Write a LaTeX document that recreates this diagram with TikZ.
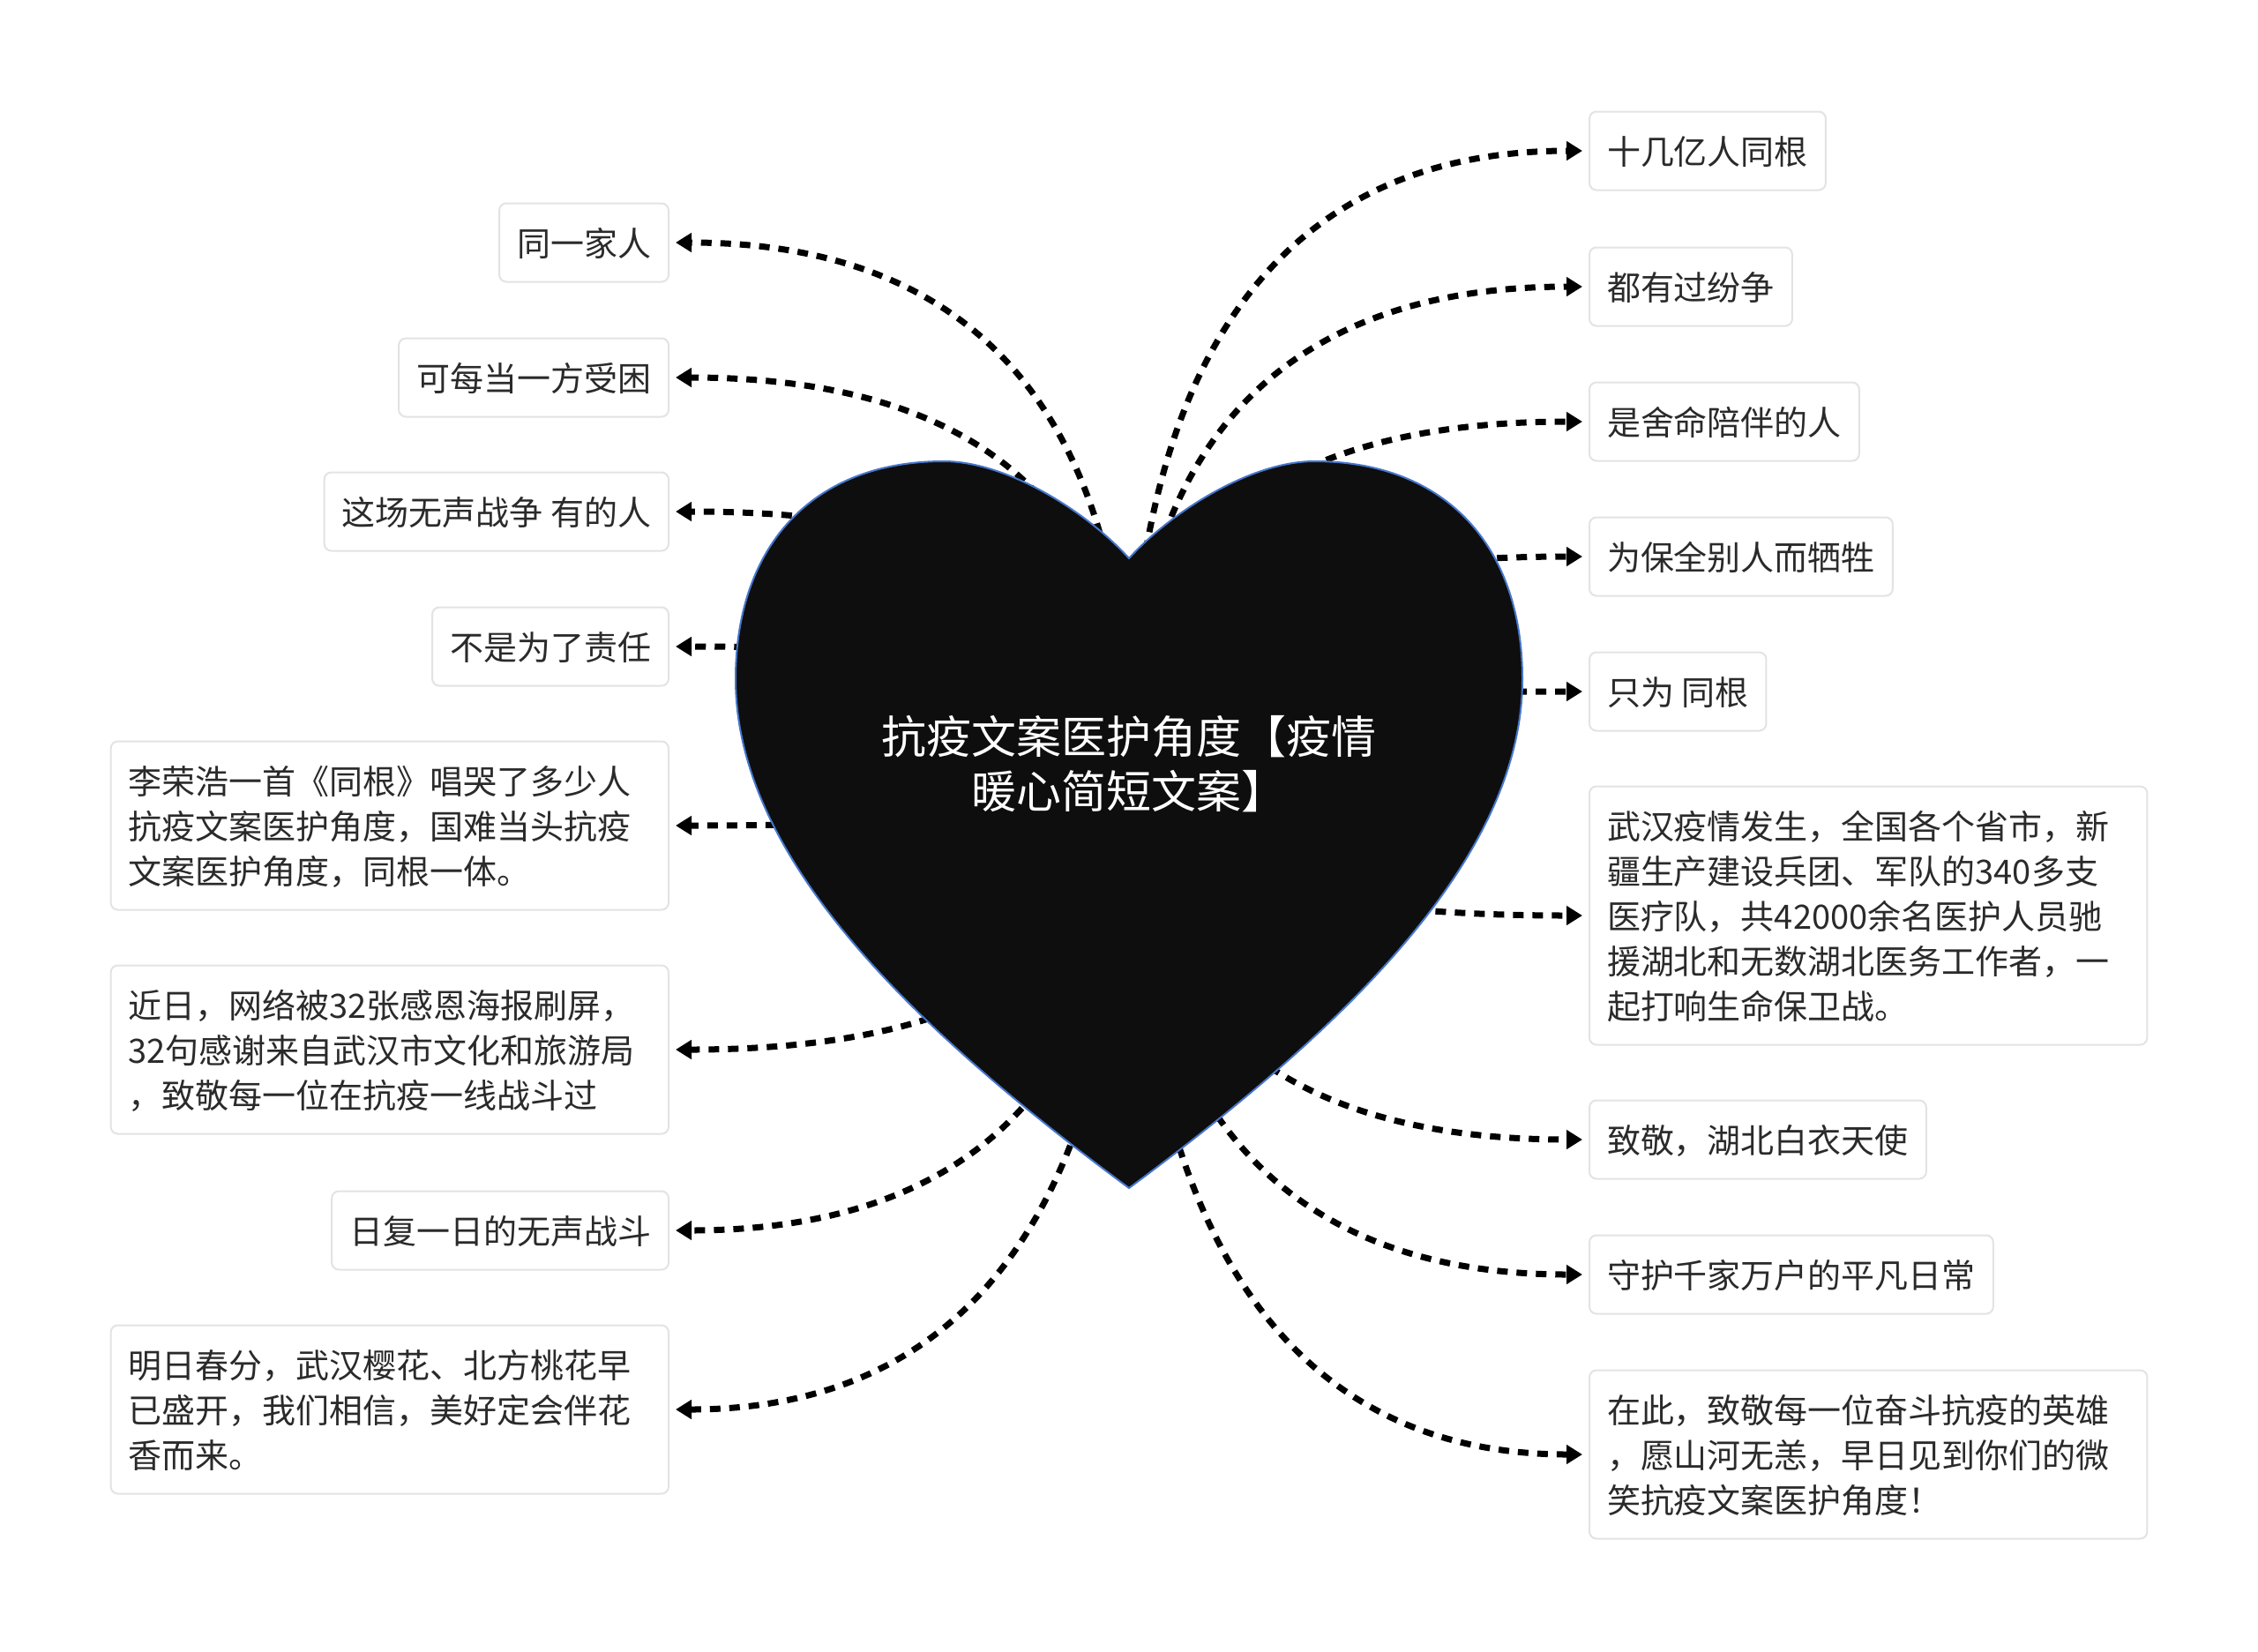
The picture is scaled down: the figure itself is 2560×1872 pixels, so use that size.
\documentclass[tikz,border=0pt]{standalone}
\usepackage{fontspec}
\setmainfont{Noto Sans CJK SC}
\usetikzlibrary{arrows.meta, calc, backgrounds}
\definecolor{HeartFill}{HTML}{0E0E0E}
\definecolor{HeartEdge}{HTML}{4677CC}
\definecolor{LeafEdge}{HTML}{E3E3E3}
\definecolor{LeafText}{HTML}{2A2A2A}
\newcommand\leafstrut{\rule[-0.2\baselineskip]{0pt}{\baselineskip}}
\tikzset{
  leaf/.style={draw=LeafEdge, line width=0.02cm, rounded corners=0.08cm, fill=white,
    text=LeafText, inner xsep=0.2cm, inner ysep=0.19cm,
    font=\fontsize{10.8pt}{14.5pt}\selectfont,
    execute at begin node=\leafstrut, execute at end node=\leafstrut},
  leafwide/.style={leaf, text width=5.92cm, align=left},
  link/.style={line width=0.07cm, dash pattern=on 0.12cm off 0.1cm,
    -{Triangle[length=0.18cm, width=0.21cm]}, shorten >=0.07cm},
}

\begin{document}
\begin{tikzpicture}[x=0.01cm, y=-0.01cm]
    \useasboundingbox (0,0) rectangle (2560,1872);

    % heart
    \draw[fill=HeartFill, draw=HeartEdge, line width=0.02cm]
      (1280,633) .. controls (1330,578) and (1420,523) .. (1490,523)
      .. controls (1640,523) and (1726,620) .. (1726,770)
      .. controls (1726,970) and (1530,1162) .. (1280,1347)
      .. controls (1030,1162) and (834,970) .. (834,770)
      .. controls (834,620) and (920,523) .. (1070,523)
      .. controls (1140,523) and (1230,578) .. cycle;
    \node[text=white, align=center, font=\fontsize{14.5pt}{17.6pt}\selectfont] (root) at (1280,866)
      {抗疫文案医护角度【疫情\\暖心简短文案】};

    % left side
    \node[leaf, anchor=east] (l1) at (759,275) {同一家人};
    \node[leaf, anchor=east] (l2) at (759,428) {可每当一方受困};
    \node[leaf, anchor=east] (l3) at (759,580) {这场无声战争 有的人};
    \node[leaf, anchor=east] (l4) at (759,733) {不是为了责任};
    \node[leafwide, anchor=east] (l5) at (759,936)
      {李荣浩一首《同根》唱哭了多少人\\抗疫文案医护角度，国难当头抗疫\\文案医护角度，同根一体。};
    \node[leafwide, anchor=east] (l6) at (759,1190)
      {近日，网络被32张感恩海报刷屏，\\32句感谢来自武汉市文化和旅游局\\，致敬每一位在抗疫一线战斗过};
    \node[leaf, anchor=east] (l7) at (759,1395) {日复一日的无声战斗};
    \node[leafwide, anchor=east] (l8) at (759,1598)
      {明日春分，武汉樱花、北方桃花早\\已盛开，我们相信，美好定会伴花\\香而来。};

    % right side
    \node[leaf, anchor=west] (r1) at (1801,171) {十几亿人同根};
    \node[leaf, anchor=west] (r2) at (1801,325) {都有过纷争};
    \node[leaf, anchor=west] (r3) at (1801,478) {是舍命陪伴的人};
    \node[leaf, anchor=west] (r4) at (1801,631) {为保全别人而牺牲};
    \node[leaf, anchor=west] (r5) at (1801,784) {只为 同根};
    \node[leafwide, anchor=west] (r6) at (1801,1038)
      {武汉疫情发生，全国各个省市，新\\疆生产建设兵团、军队的340多支\\医疗队，共42000余名医护人员驰\\援湖北和无数湖北医务工作者，一\\起打响生命保卫战。};
    \node[leaf, anchor=west] (r7) at (1801,1292) {致敬，湖北白衣天使};
    \node[leaf, anchor=west] (r8) at (1801,1445) {守护千家万户的平凡日常};
    \node[leafwide, anchor=west] (r9) at (1801,1649)
      {在此，致敬每一位奋斗抗疫的英雄\\，愿山河无恙，早日见到你们的微\\笑抗疫文案医护角度！};

    % connectors behind the heart
    \begin{scope}[on background layer]
      \fill[white] (0,0) rectangle (2560,1872);
      \foreach \n/\a in {l1/east, l2/east, l3/east, l4/east, l5/east, l6/east, l7/east, l8/east,
                         r1/west, r2/west, r3/west, r4/west, r5/west, r6/west, r7/west, r8/west, r9/west}
        \draw[link] (root.center)
          .. controls ($(root.center)!2/3!(root.center |- \n.\a)$)
          and ($(\n.\a)!2/3!(root.center |- \n.\a)$) .. (\n.\a);
    \end{scope}
\end{tikzpicture}
\end{document}
